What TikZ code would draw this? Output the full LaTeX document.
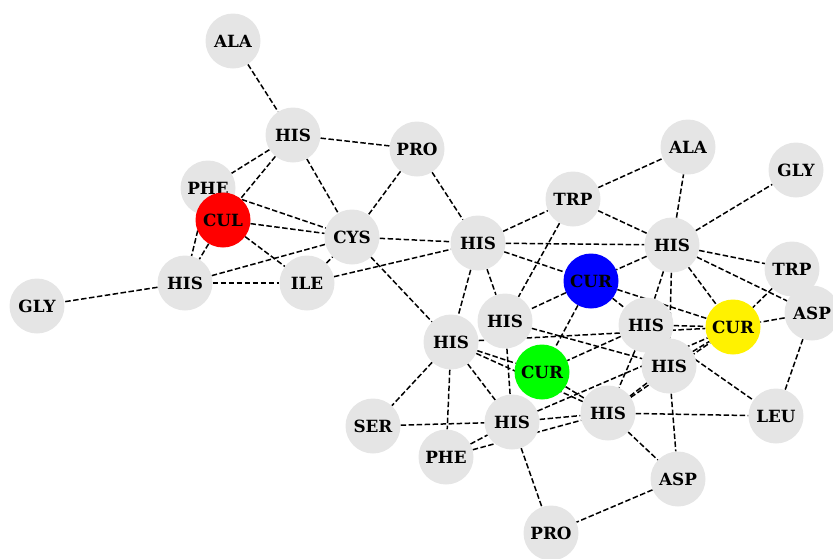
\documentclass[tikz,border=0pt]{standalone}
\usepackage{fontspec}
\setmainfont{DejaVu Serif}
\usepackage{tikz}
\usetikzlibrary{positioning, backgrounds}

\begin{document}
\begin{tikzpicture}[
    x=1pt, y=-1pt,
    residue/.style={circle, fill=gray!20, minimum size=55pt, inner sep=0pt, font=\fontsize{16.8}{18}\selectfont\bfseries},
    metal/.style={residue, fill=#1},
    bond/.style={line width=1.5pt, dash pattern=on 5.5pt off 2.5pt}
]
\useasboundingbox (0,0) rectangle (833,558);

% Knoten
\node[residue] (ala1) at (233,41) {ALA};
\node[residue] (his1) at (293,135) {HIS};
\node[residue] (pro1) at (417,149) {PRO};
\node[residue] (phe1) at (208,188) {PHE};
\node[metal=red] (cul) at (223,220) {CUL};
\node[residue] (cys) at (352,237) {CYS};
\node[residue] (his2) at (185,283) {HIS};
\node[residue] (ile) at (307,283) {ILE};
\node[residue] (gly1) at (37,306) {GLY};
\node[residue] (his3) at (478,243) {HIS};
\node[residue] (trp1) at (573,199) {TRP};
\node[residue] (ala2) at (688,147) {ALA};
\node[residue] (gly2) at (796,170) {GLY};
\node[residue] (his4) at (672,245) {HIS};
\node[residue] (trp2) at (792,269) {TRP};
\node[metal=blue] (curb) at (591,281) {CUR};
\node[residue] (asp1) at (812,313) {ASP};
\node[metal=yellow] (cury) at (733,327) {CUR};
\node[residue] (his5) at (505,321) {HIS};
\node[residue] (his6) at (646,325) {HIS};
\node[residue] (his7) at (451,342) {HIS};
\node[metal=green] (curg) at (542,372) {CUR};
\node[residue] (his8) at (669,366) {HIS};
\node[residue] (ser) at (373,426) {SER};
\node[residue] (his9) at (512,422) {HIS};
\node[residue] (his10) at (608,413) {HIS};
\node[residue] (leu) at (776,416) {LEU};
\node[residue] (phe2) at (446,457) {PHE};
\node[residue] (asp2) at (678,479) {ASP};
\node[residue] (pro2) at (551,533) {PRO};

% Kanten zwischen Knoten
\begin{scope}[on background layer]
\draw[bond] (ala1) -- (his1);
\draw[bond] (his1) -- (pro1);
\draw[bond] (his1) -- (phe1);
\draw[bond] (his1) -- (cul);
\draw[bond] (his1) -- (cys);
\draw[bond] (pro1) -- (cys);
\draw[bond] (pro1) -- (his3);
\draw[bond] (phe1) -- (cys);
\draw[bond] (phe1) -- (his2);
\draw[bond] (cul) -- (cys);
\draw[bond] (cul) -- (ile);
\draw[bond] (cul) -- (his2);
\draw[bond] (his2) -- (cys);
\draw[bond] (his2) -- (ile);
\draw[bond] (his2) -- (gly1);
\draw[bond] (ile) -- (cys);
\draw[bond] (ile) -- (his3);
\draw[bond] (cys) -- (his3);
\draw[bond] (cys) -- (his7);
\draw[bond] (his3) -- (trp1);
\draw[bond] (his3) -- (his4);
\draw[bond] (his3) -- (curb);
\draw[bond] (his3) -- (his7);
\draw[bond] (his3) -- (his5);
\draw[bond] (trp1) -- (ala2);
\draw[bond] (trp1) -- (his4);
\draw[bond] (trp1) -- (his5);
\draw[bond] (his4) -- (ala2);
\draw[bond] (his4) -- (gly2);
\draw[bond] (his4) -- (trp2);
\draw[bond] (his4) -- (asp1);
\draw[bond] (his4) -- (curb);
\draw[bond] (his4) -- (cury);
\draw[bond] (his4) -- (his6);
\draw[bond] (his4) -- (his8);
\draw[bond] (curb) -- (his5);
\draw[bond] (curb) -- (curg);
\draw[bond] (curb) -- (his6);
\draw[bond] (curb) -- (cury);
\draw[bond] (trp2) -- (cury);
\draw[bond] (asp1) -- (cury);
\draw[bond] (asp1) -- (leu);
\draw[bond] (his6) -- (cury);
\draw[bond] (his7) -- (cury);
\draw[bond] (his6) -- (curg);
\draw[bond] (his6) -- (his10);
\draw[bond] (his6) -- (leu);
\draw[bond] (his5) -- (his8);
\draw[bond] (his5) -- (his9);
\draw[bond] (his7) -- (curg);
\draw[bond] (his7) -- (his10);
\draw[bond] (curg) -- (his10);
\draw[bond] (his7) -- (ser);
\draw[bond] (his7) -- (phe2);
\draw[bond] (his7) -- (his9);
\draw[bond] (ser) -- (his9);
\draw[bond] (phe2) -- (his9);
\draw[bond] (phe2) -- (his10);
\draw[bond] (his9) -- (his10);
\draw[bond] (his9) -- (pro2);
\draw[bond] (his9) -- (cury);
\draw[bond] (his10) -- (his8);
\draw[bond] (his10) -- (cury);
\draw[bond] (his8) -- (cury);
\draw[bond] (his10) -- (leu);
\draw[bond] (his10) -- (asp2);
\draw[bond] (his8) -- (asp2);
\draw[bond] (asp2) -- (pro2);
\end{scope}

\end{tikzpicture}
\end{document}
